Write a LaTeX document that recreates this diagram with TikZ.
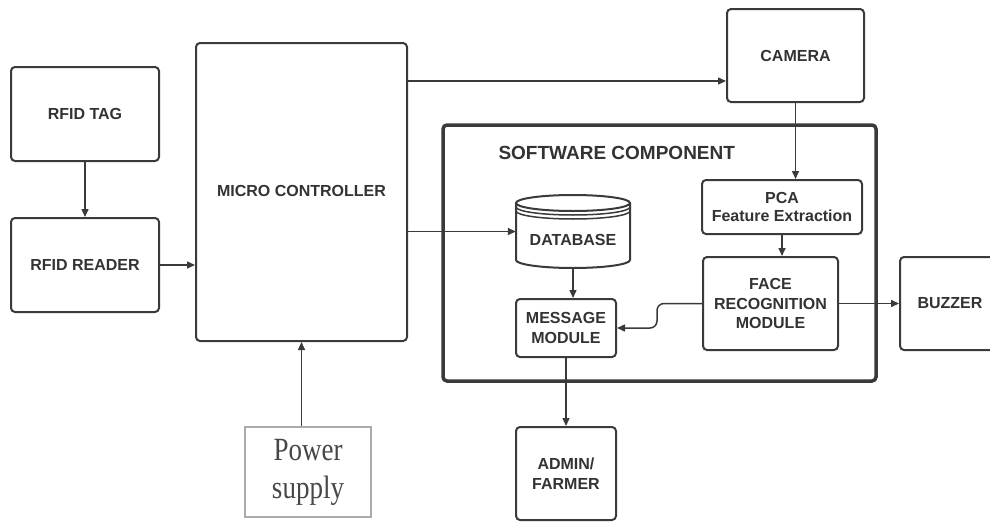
\documentclass[tikz,border=0pt]{standalone}
\usepackage{fontspec}
\setmainfont{Liberation Serif}
\setsansfont{Liberation Sans}
\usetikzlibrary{arrows.meta}
\definecolor{lin}{HTML}{3A3A3A}
\definecolor{txt}{HTML}{333333}
\definecolor{pwrline}{HTML}{AAAAAA}

\begin{document}
\begin{tikzpicture}[x=1pt, y=-1pt,
	blk/.style={draw=lin, line width=2pt, rounded corners=4pt, fill=white, text=txt, align=center, font=\sffamily\bfseries\fontsize{16}{19.5}\selectfont},
	arr/.style={draw=lin, line width=1.5pt, -{Triangle[length=8pt, width=7pt]}}]
	\useasboundingbox (0, 0) rectangle (990, 522);

	\node [blk, line width=3.5pt, minimum width=433, minimum height=256] (sw) at (659.5, 253) {};
	\node [anchor=west, text=txt, font=\sffamily\bfseries\fontsize{19}{22}\selectfont] (swt) at (495, 153) {SOFTWARE COMPONENT};

	\node [blk, minimum width=148, minimum height=94] (tag) at (85, 114) {RFID TAG};
	\node [blk, minimum width=148, minimum height=94] (rdr) at (85, 265) {RFID READER};
	\node [blk, minimum width=211, minimum height=298] (mc) at (301.5, 192) {};
	\node [text=txt, font=\sffamily\bfseries\fontsize{16}{19.5}\selectfont] (mct) at (301.5, 191) {MICRO CONTROLLER};
	\node [draw=pwrline, line width=1.5pt, fill=white, minimum width=126, minimum height=90, text=txt!90, align=center, font=\rmfamily\fontsize{27}{38}\selectfont] (pwr) at (308, 472) {\scalebox{1}[1.2]{Power}\\\scalebox{1}[1.2]{supply}};

	\node [blk, minimum width=137, minimum height=93] (cam) at (795.5, 55.5) {CAMERA};
	\node [blk, minimum width=160, minimum height=54, font=\sffamily\bfseries\fontsize{16}{18}\selectfont] (pca) at (782, 207) {PCA\\Feature Extraction};
	\node [blk, minimum width=135, minimum height=93] (face) at (770.5, 303.5) {FACE\\RECOGNITION\\MODULE};
	\node [blk, minimum width=100, minimum height=93] (buzz) at (950, 303.5) {BUZZER};

	\node [minimum width=114, minimum height=73, text=txt, font=\sffamily\bfseries\fontsize{16}{19.5}\selectfont] (db) at (573, 231.5) {};
	\draw [draw=lin, line width=2pt, fill=white] (516, 203) -- (516, 260) arc [start angle=180, end angle=0, x radius=57, y radius=8] -- (630, 203);
	\draw [draw=lin, line width=2pt, fill=white] (573, 203) ellipse [x radius=57, y radius=8];
	\draw [draw=lin, line width=1.5pt] (516, 207) arc [start angle=180, end angle=0, x radius=57, y radius=8];
	\draw [draw=lin, line width=1.5pt] (516, 211) arc [start angle=180, end angle=0, x radius=57, y radius=8];
	\node [text=txt, font=\sffamily\bfseries\fontsize{16}{19.5}\selectfont] (dbt) at (573, 240) {DATABASE};

	\node [blk, minimum width=100, minimum height=58] (msg) at (566, 328) {MESSAGE\\MODULE};
	\node [blk, minimum width=100, minimum height=93] (adm) at (566, 473.5) {ADMIN/\\FARMER};

	\draw [arr] (tag) to (rdr);
	\draw [arr] (rdr) to (mc.west |- rdr.east);
	\draw [arr] (pwr.north -| mc.south) to (mc.south);
	\draw [arr] ([yshift=-25.5pt]cam.west -| mc.east) to ([yshift=-25.5pt]cam.west);
	\draw [arr] (mc.east |- db.west) to (db.west);

	\draw [arr] (cam.south) to (cam.south |- pca.north);
	\draw [arr] (pca.south) to (pca.south |- face.north);
	\draw [arr] (face.east) to (buzz.west);
	\draw [arr, rounded corners=7pt] (face.west) -- ++(-45, 0) |- (msg.east);

	\draw [arr] (db.south) to (db.south |- msg.north);
	\draw [arr] (msg.south) to (adm.north);
\end{tikzpicture}
\end{document}
